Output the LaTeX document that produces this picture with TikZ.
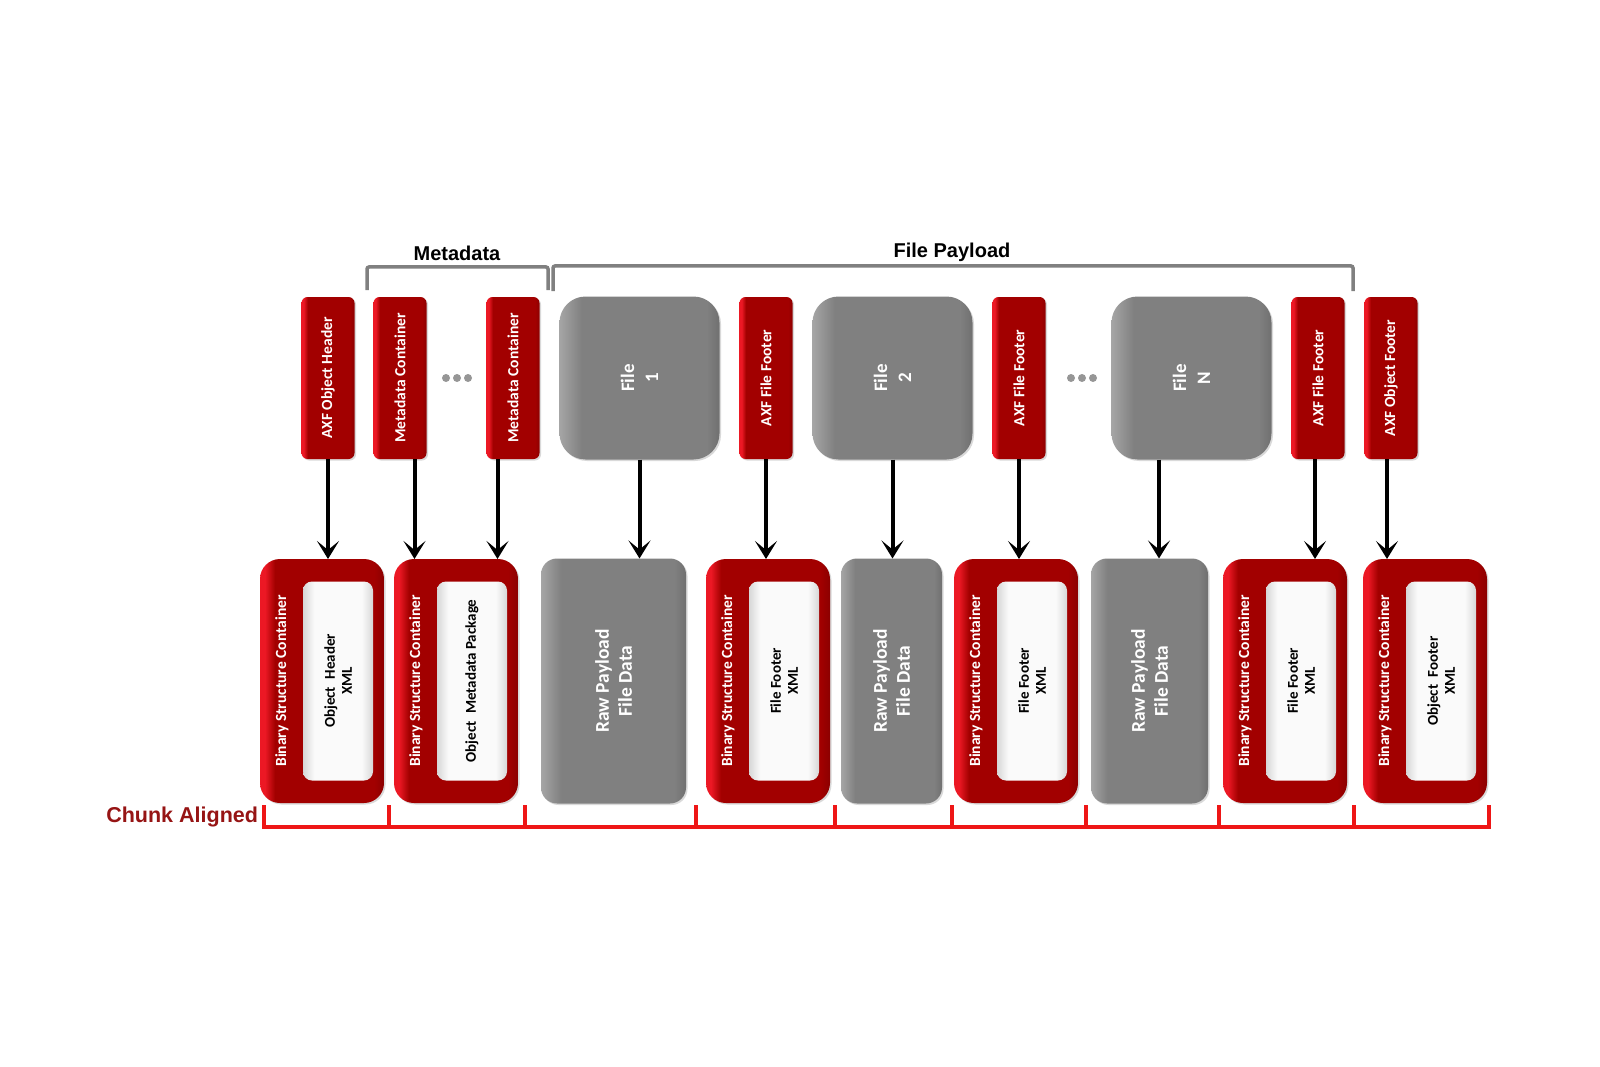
\documentclass[tikz,border=0pt]{standalone}
\usepackage{fontspec}
\setmainfont{Carlito}
\newfontfamily\arialfont{Liberation Sans}
\usetikzlibrary{arrows.meta, positioning, shadows, calc}
\definecolor{axfbright}{RGB}{236,24,36}
\definecolor{axfmid}{RGB}{196,10,16}
\definecolor{axfdark}{RGB}{162,0,0}
\definecolor{axfdeep}{RGB}{140,0,0}
\definecolor{filelight}{RGB}{165,165,165}
\definecolor{filegray}{RGB}{128,128,128}
\definecolor{filedeep}{RGB}{112,112,112}
\definecolor{xmledge}{RGB}{215,215,215}
\definecolor{xmlwhite}{RGB}{250,250,250}
\definecolor{brackgray}{RGB}{128,128,128}
\definecolor{chunkred}{RGB}{238,22,22}
\definecolor{chunklabel}{RGB}{150,20,20}
\definecolor{dotgray}{RGB}{150,150,150}
\pgfdeclarehorizontalshading{redbevel}{100bp}{color(0bp)=(axfbright); color(25bp)=(axfbright); color(27bp)=(axfbright); color(31bp)=(axfdark); color(71bp)=(axfdark); color(75bp)=(axfdeep); color(100bp)=(axfdeep)}
\pgfdeclarehorizontalshading{graybevel}{100bp}{color(0bp)=(filelight); color(25bp)=(filelight); color(32bp)=(filegray); color(71bp)=(filegray); color(75bp)=(filedeep); color(100bp)=(filedeep)}
\pgfdeclarehorizontalshading{whitebevel}{100bp}{color(0bp)=(xmledge); color(25bp)=(xmledge); color(33bp)=(xmlwhite); color(67bp)=(xmlwhite); color(75bp)=(xmledge); color(100bp)=(xmledge)}
\tikzstyle{arrow} = [line width=4pt, -{Stealth[length=18pt,width=22pt,inset=9pt]}]

\begin{document}
\begin{tikzpicture}[
  x=1pt, y=-1pt,
  every node/.style={outer sep=0pt, inner sep=0pt},
  vlabel/.style={rotate=90, text=white, align=center, font=\bfseries\fontsize{15.5}{18}\selectfont},
  shadowed/.style={drop shadow={opacity=0.3, shadow xshift=1.5pt, shadow yshift=-1.5pt}},
  axfbox/.style={rectangle, rounded corners=6pt, shade, shading=redbevel, shadowed, minimum width=53pt, minimum height=162pt, label={[vlabel]center:{#1}}},
  filebox/.style={rectangle, rounded corners=26pt, shade, shading=graybevel, shadowed, minimum width=160pt, minimum height=163pt, label={[vlabel, font=\bfseries\fontsize{19}{24}\selectfont]center:{#1}}},
  bscbox/.style={rectangle, rounded corners=20pt, shade, shading=redbevel, shadowed, minimum width=124pt, minimum height=244pt, label={[xshift=-40pt, vlabel, font=\bfseries\fontsize{15.5}{18}\selectfont]center:{Binary Structure Container}}},
  xmlbox/.style={rectangle, rounded corners=9pt, shade, shading=whitebevel, minimum width=70pt, minimum height=199pt, label={[vlabel, text=black, font=\bfseries\fontsize{15}{17}\selectfont]center:{#1}}},
  rawbox/.style={rectangle, rounded corners=16pt, shade, shading=graybevel, shadowed, minimum width=#1, minimum height=245pt, label={[vlabel, font=\bfseries\fontsize{19.5}{23}\selectfont]center:{Raw Payload\\File Data}}},
  bracket/.style={draw=brackgray, line width=3.5pt, rounded corners=2pt},
  chunk/.style={draw=chunkred, line width=3.5pt},
  title/.style={font=\arialfont\bfseries\fontsize{20}{23}\selectfont}
]
\useasboundingbox (0,0) rectangle (1600,1067);

% Nodes: AXF object layout
\node[axfbox={AXF Object Header}] (hdr) at (328,378) {};
\node[axfbox={Metadata Container}, right=19pt of hdr] (meta1) {};
\node[axfbox={Metadata Container}, right=60pt of meta1] (meta2) {};
\node[filebox={File\\1}, right=20pt of meta2] (file1) {};
\node[axfbox={AXF File Footer}, right=20pt of file1] (ffoot1) {};
\node[filebox={File\\2}, right=20pt of ffoot1] (file2) {};
\node[axfbox={AXF File Footer}, right=20pt of file2] (ffoot2) {};
\node[filebox={File\\N}, right=66pt of ffoot2] (fileN) {};
\node[axfbox={AXF File Footer}, right=20pt of fileN] (ffoot3) {};
\node[axfbox={AXF Object Footer}, right=20pt of ffoot3] (objfoot) {};

% Nodes: chunk aligned containers
\node[bscbox] (bsc1) at (322,681) {};
\node[bscbox, right=10pt of bsc1] (bsc2) {};
\node[rawbox=145pt, right=23pt of bsc2] (raw1) {};
\node[bscbox, right=20pt of raw1] (bsc3) {};
\node[rawbox=101pt, right=11pt of bsc3] (raw2) {};
\node[bscbox, right=12pt of raw2] (bsc4) {};
\node[rawbox=117pt, right=13pt of bsc4] (raw3) {};
\node[bscbox, right=15pt of raw3] (bsc5) {};
\node[bscbox, right=16pt of bsc5] (bsc6) {};

\node[xmlbox={Object\enspace Header\\XML}] (xml1) at ([xshift=16pt]bsc1.center) {};
\node[xmlbox={Object\enspace Metadata Package}] (xml2) at ([xshift=16pt]bsc2.center) {};
\node[xmlbox={File Footer\\XML}] (xml3) at ([xshift=16pt]bsc3.center) {};
\node[xmlbox={File Footer\\XML}] (xml4) at ([xshift=16pt]bsc4.center) {};
\node[xmlbox={File Footer\\XML}] (xml5) at ([xshift=16pt]bsc5.center) {};
\node[xmlbox={Object\enspace Footer\\XML}] (xml6) at ([xshift=16pt]bsc6.center) {};

% Arrows
\draw[arrow] (hdr.south) -- (hdr.south |- bsc1.north);
\draw[arrow] ([xshift=14.5pt]meta1.south) -- ([xshift=14.5pt]meta1.south |- bsc2.north);
\draw[arrow] ([xshift=-15.5pt]meta2.south) -- ([xshift=-15.5pt]meta2.south |- bsc2.north);
\draw[arrow] (file1.south) -- (file1.south |- raw1.north);
\draw[arrow] (ffoot1.south) -- (ffoot1.south |- bsc3.north);
\draw[arrow] (file2.south) -- (file2.south |- raw2.north);
\draw[arrow] (ffoot2.south) -- (ffoot2.south |- bsc4.north);
\draw[arrow] ([xshift=-32.5pt]fileN.south) -- ([xshift=-32.5pt]fileN.south |- raw3.north);
\draw[arrow] ([xshift=-3pt]ffoot3.south) -- ([xshift=-3pt]ffoot3.south |- bsc5.north);
\draw[arrow] ([xshift=-4pt]objfoot.south) -- ([xshift=-4pt]objfoot.south |- bsc6.north);

% Dots
\fill[dotgray] (446,378) circle (4pt) (457,378) circle (4pt) (468,378) circle (4pt);
\fill[dotgray] (1071,378) circle (4pt) (1082,378) circle (4pt) (1093,378) circle (4pt);

% Brackets and labels
\draw[bracket] (367,290) -- (367,267) -- (548,267) -- (548,290);
\draw[bracket] (553,291) -- (553,266) -- (1353,266) -- (1353,291);
\node[title] (mdlabel) at (457,253) {Metadata};
\node[title] (fplabel) at (952,252) {File Payload};

\draw[chunk] (264,805) -- (264,827) -- (1489,827) -- (1489,805);
\draw[chunk] (389,805) -- (389,827) (525,805) -- (525,827) (696,805) -- (696,827) (835,805) -- (835,827)
  (952,805) -- (952,827) (1086,805) -- (1086,827) (1219,805) -- (1219,827) (1354,805) -- (1354,827);
\node[anchor=east, text=chunklabel, font=\arialfont\bfseries\fontsize{21.5}{24}\selectfont] (chunklbl) at (258,817) {Chunk Aligned};

\end{tikzpicture}
\end{document}
